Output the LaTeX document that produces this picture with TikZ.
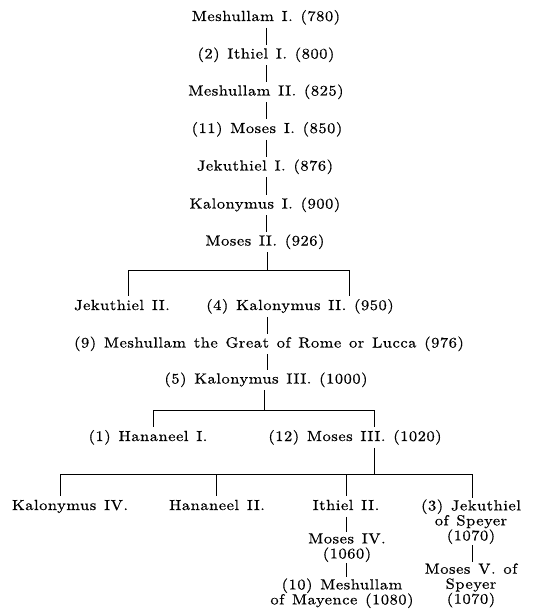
\documentclass[tikz,border=0pt]{standalone}
\usepackage{fontspec}
\setmainfont{lmroman10-regular}[Extension=.otf, FakeStretch=1.12, LetterSpace=4, WordSpace=1.3, FakeBold=0.6]
\begin{document}
\begin{tikzpicture}[x=1pt,y=-1pt, line width=0.8pt,
  every node/.style={font=\fontsize{14.6}{15}\selectfont, inner xsep=0pt, inner ysep=3pt},
  person/.style={text height=10.5pt, text depth=3.5pt},
  multi/.style={align=center, anchor=north, inner ysep=1pt}]
\fill[white] (0,0) rectangle (533,609);
\useasboundingbox (0,0) rectangle (533,609);

\coordinate (ax) at (266,0);
% main line
\node[person] (m1)  at (266,17.5)  {Meshullam I. (780)};
\node[person] (i1)  at (266,55)    {(2) Ithiel I. (800)};
\node[person] (m2)  at (266,92)    {Meshullam II. (825)};
\node[person] (mo1) at (267,129.5) {(11) Moses I. (850)};
\node[person] (j1)  at (265,167)   {Jekuthiel I. (876)};
\node[person] (k1)  at (265,205)   {Kalonymus I. (900)};
\node[person] (mo2) at (265,242)   {Moses II. (926)};
\draw (ax |- m1.south) -- (ax |- i1.north);
\draw (ax |- i1.south) -- (ax |- m2.north);
\draw (ax |- m2.south) -- (ax |- mo1.north);
\draw (ax |- mo1.south) -- (ax |- j1.north);
\draw (ax |- j1.south) -- (ax |- k1.north);
\draw (ax |- k1.south) -- (ax |- mo2.north);

% sons of Moses II
\node[person] (j2) at (122,306.5) {Jekuthiel II.};
\node[person] (k2) at (300,306.5) {(4) Kalonymus II. (950)};
\coordinate (ba)  at (267,270);
\coordinate (bal) at (128,270);
\coordinate (bar) at (349,270);
\draw (mo2.south -| ba) -- (ba);
\draw (bal) -- (bar);
\draw (bal) -- (bal |- j2.north);
\draw (bar) -- (bar |- k2.north);

\node[person] (mg) at (269,344) {(9) Meshullam the Great of Rome or Lucca (976)};
\node[person] (k3) at (266,380) {(5) Kalonymus III. (1000)};
\draw (ba |- k2.south) -- (ba |- mg.north);
\draw (ba |- mg.south) -- (ba |- k3.north);

% sons of Kalonymus III
\node[person] (h1)  at (148,437.5) {(1) Hananeel I.};
\node[person] (mo3) at (355,437.5) {(12) Moses III. (1020)};
\coordinate (bb)  at (264,410);
\coordinate (bbl) at (153,410);
\coordinate (bbr) at (374,410);
\draw (bb |- k3.south) -- (bb);
\draw (bbl) -- (bbr);
\draw (bbl) -- (bbl |- h1.north);
\draw (bbr) -- (bbr |- mo3.north);

% sons of Moses III
\node[person] (k4) at (70,506.5)  {Kalonymus IV.};
\node[person] (h2) at (217,506.5) {Hananeel II.};
\node[person] (i2) at (346,506.5) {Ithiel II.};
\node[multi]  (j3) at (471,498)   {(3) Jekuthiel\\of Speyer\\(1070)};
\coordinate (bc)  at (374,474);
\coordinate (bcl) at (60,474);
\coordinate (bch) at (216,474);
\coordinate (bci) at (346,474);
\coordinate (bcr) at (472,474);
\draw (bbr |- mo3.south) -- (bc);
\draw (bcl) -- (bcr);
\draw (bcl) -- (bcl |- k4.north);
\draw (bch) -- (bch |- h2.north);
\draw (bci) -- (bci |- i2.north);
\draw (bcr) -- (bcr |- j3.north);

% descendants
\node[multi] (mo4) at (347,532) {Moses IV.\\(1060)};
\node[multi] (m10) at (342,577) {(10) Meshullam\\of Mayence (1080)};
\node[multi] (mo5) at (471,562) {Moses V. of\\Speyer\\(1070)};
\draw (i2.south) -- (i2.south |- mo4.north);
\draw (mo4.south -| i2.south) -- (i2.south |- m10.north);
\draw (j3.south -| bcr) -- (bcr |- mo5.north);
\end{tikzpicture}
\end{document}
